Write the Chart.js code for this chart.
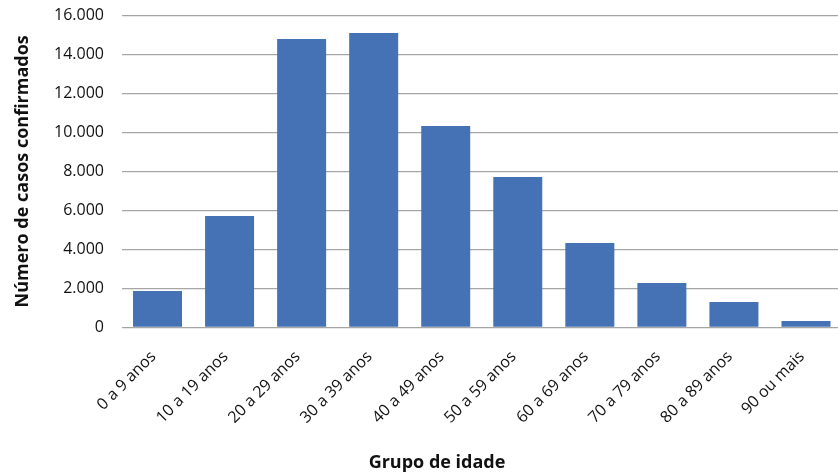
<!DOCTYPE html>
<html lang="pt">
<head>
<meta charset="utf-8">
<title>Casos confirmados por grupo de idade</title>
<script src="https://cdn.jsdelivr.net/npm/chart.js@4/dist/chart.umd.min.js"></script>
<style>
  html, body { margin: 0; padding: 0; background: #fff; overflow: hidden; }
  #wrap { position: relative; width: 842px; height: 475px; }
</style>
</head>
<body>
<div id="wrap"><canvas id="chart"></canvas></div>
<script>
// Age groups and confirmed case counts
const categories = ['0 a 9 anos', '10 a 19 anos', '20 a 29 anos', '30 a 39 anos', '40 a 49 anos',
  '50 a 59 anos', '60 a 69 anos', '70 a 79 anos', '80 a 89 anos', '90 ou mais'];
const casos = [1860, 5710, 14790, 15090, 10320, 7710, 4320, 2270, 1300, 320];
const yTicks = [0, 2000, 4000, 6000, 8000, 10000, 12000, 14000, 16000];
const yTitle = 'Número de casos confirmados';
const xTitle = 'Grupo de idade';

const FONT = "'Open Sans', 'Noto Sans', sans-serif";
const TEXT = '#111111';

// Thousands separator with a dot (pt-BR style)
function fmt(v) {
  return String(v).replace(/\B(?=(\d{3})+(?!\d))/g, '.');
}

// Draws the horizontal axis caption under the rotated labels
const xCaption = {
  id: 'xCaption',
  afterDraw(chart, args, opts) {
    const ctx = chart.ctx;
    ctx.save();
    ctx.font = 'bold 18px ' + FONT;
    ctx.fillStyle = TEXT;
    ctx.textAlign = 'center';
    ctx.textBaseline = 'middle';
    ctx.fillText(opts.text, opts.x, opts.y);
    ctx.restore();
  }
};

new Chart(document.getElementById('chart'), {
  type: 'bar',
  data: {
    labels: categories,
    datasets: [{
      data: casos,
      backgroundColor: '#4571B5',
      borderWidth: 0,
      categoryPercentage: 1,
      barPercentage: 0.68
    }]
  },
  plugins: [xCaption],
  options: {
    responsive: true,
    maintainAspectRatio: false,
    animation: false,
    layout: { padding: { top: 15.3, left: 0, right: 0, bottom: 0 } },
    plugins: {
      legend: { display: false },
      tooltip: { enabled: false },
      xCaption: { text: xTitle, x: 437, y: 463 }
    },
    scales: {
      x: {
        grid: { display: false, drawTicks: false },
        border: { display: false },
        ticks: {
          autoSkip: false,
          minRotation: 45,
          maxRotation: 45,
          padding: 20,
          labelOffset: -4,
          color: TEXT,
          font: { family: FONT, size: 16 }
        },
        afterFit(scale) { scale.height = 147.7; }
      },
      y: {
        min: 0,
        max: 16000,
        afterBuildTicks(scale) { scale.ticks = yTicks.map(v => ({ value: v })); },
        grid: {
          color: '#a6a6a6',
          lineWidth: 1.2,
          drawTicks: true,
          tickLength: 16.5,
          tickColor: 'rgba(0,0,0,0)'
        },
        border: { display: false },
        ticks: {
          padding: 1,
          color: TEXT,
          font: { family: FONT, size: 16 },
          callback: v => fmt(v)
        },
        title: {
          display: true,
          text: yTitle,
          color: TEXT,
          font: { family: FONT, size: 18, weight: 'bold' },
          padding: { top: 12, bottom: 0 }
        },
        afterFit(scale) { scale.width = 121.5; }
      }
    }
  }
});
</script>
</body>
</html>
